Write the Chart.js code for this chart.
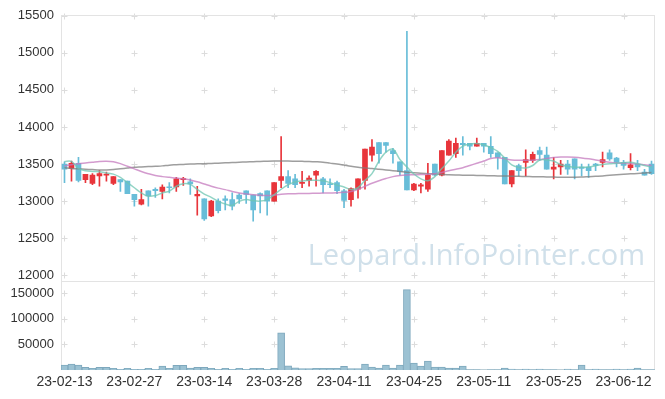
<!DOCTYPE html>
<html>
<head>
<meta charset="utf-8">
<script src="https://cdn.jsdelivr.net/npm/chart.js@4/dist/chart.umd.min.js"></script>
<style>
  html, body { margin: 0; padding: 0; background: #fff; }
  #wrap { width: 665px; height: 399px; }
</style>
</head>
<body>
<div id="wrap"><canvas id="chart"></canvas></div>
<script>
// daily candles, 23-02-13 .. 23-06-16
const dates = [
  '23-02-13','23-02-14','23-02-15','23-02-16','23-02-17','23-02-20','23-02-21','23-02-22','23-02-23','23-02-24',
  '23-02-27','23-02-28','23-03-02','23-03-03','23-03-06','23-03-07','23-03-08','23-03-09','23-03-10','23-03-13',
  '23-03-14','23-03-15','23-03-16','23-03-17','23-03-20','23-03-21','23-03-22','23-03-23','23-03-24','23-03-27',
  '23-03-28','23-03-29','23-03-30','23-03-31','23-04-03','23-04-04','23-04-05','23-04-06','23-04-07','23-04-10',
  '23-04-11','23-04-12','23-04-13','23-04-14','23-04-17','23-04-18','23-04-19','23-04-20','23-04-21','23-04-24',
  '23-04-25','23-04-26','23-04-27','23-04-28','23-05-02','23-05-03','23-05-04','23-05-08','23-05-09','23-05-10',
  '23-05-11','23-05-12','23-05-15','23-05-16','23-05-17','23-05-18','23-05-19','23-05-22','23-05-23','23-05-24',
  '23-05-25','23-05-26','23-05-30','23-05-31','23-06-01','23-06-02','23-06-05','23-06-07','23-06-08','23-06-09',
  '23-06-12','23-06-13','23-06-14','23-06-15','23-06-16'
];

const openP = [
  13500,13440,13510,13290,13240,13340,13350,13240,13290,13270,
  13090,12960,13140,13160,13130,13190,13190,13290,13260,13070,
  13030,12800,13000,13030,13020,13080,13140,13080,13100,13140,
  13000,13280,13330,13300,13240,13280,13350,13300,13230,13250,
  13140,13020,13160,13280,13620,13790,13790,13680,13530,13410,
  13150,13200,13160,13500,13350,13620,13640,13780,13780,13740,
  13780,13740,13650,13590,13230,13480,13520,13550,13680,13620,
  13430,13460,13500,13570,13460,13460,13500,13520,13650,13580,
  13520,13450,13500,13390,13500
];
const highP = [
  13530,13540,13590,13360,13370,13410,13390,13330,13290,13270,
  13090,13160,13140,13180,13220,13250,13320,13320,13300,13200,
  13030,13010,13030,13070,13110,13100,13140,13080,13110,13140,
  13250,13870,13410,13360,13400,13340,13410,13320,13300,13270,
  13160,13180,13300,13700,13830,13790,13790,13710,13530,15290,
  13240,13240,13510,13500,13680,13830,13850,13870,13780,13850,
  13780,13870,13650,13590,13410,13500,13690,13660,13730,13730,
  13590,13550,13550,13570,13500,13500,13510,13660,13690,13590,
  13550,13640,13550,13430,13540
];
const lowP = [
  13250,13270,13260,13250,13220,13200,13270,13220,13130,13100,
  12930,12950,12930,13050,13030,13110,13130,13210,13090,12810,
  12740,12790,12840,12880,12880,12970,12970,12730,12840,12810,
  13000,13180,13180,13180,13180,13200,13200,13110,13180,13100,
  12910,12930,13040,13160,13540,13510,13660,13510,13350,13150,
  13140,13110,13130,13340,13340,13620,13590,13620,13690,13740,
  13660,13590,13430,13230,13190,13340,13340,13520,13550,13430,
  13300,13360,13360,13300,13340,13320,13410,13460,13550,13460,
  13430,13420,13410,13350,13360
];
const closeP = [
  13430,13510,13280,13360,13350,13370,13360,13330,13260,13100,
  13020,13020,13070,13140,13190,13180,13300,13300,13230,13090,
  12760,13000,12870,13010,12930,13030,13090,12880,13070,13000,
  13250,13330,13240,13220,13250,13310,13400,13220,13220,13140,
  13010,13170,13300,13700,13730,13640,13750,13640,13400,13150,
  13230,13220,13350,13350,13680,13810,13780,13760,13740,13780,
  13740,13640,13590,13230,13410,13410,13560,13630,13630,13430,
  13460,13500,13430,13430,13440,13410,13480,13560,13570,13520,
  13480,13490,13460,13350,13370
];
const volumes = [
  9800,11800,9800,5200,3300,5200,5200,3300,1300,3300,
  1300,1300,3300,1300,7800,3300,9200,9200,3900,5200,
  5200,3300,1300,3300,1300,3300,1300,3300,3300,1300,
  3300,72400,8200,4000,2600,2600,3300,3300,3300,3300,
  7200,2600,2600,11700,5900,3900,9800,3900,9800,157000,
  13700,7800,17600,5900,5900,3900,3900,7800,700,700,
  200,700,700,3900,2000,700,2000,700,2000,700,
  700,400,2000,700,9800,700,2000,700,700,2000,
  700,2000,3900,700,700
];
// moving averages as drawn (short / mid / long)
const maShort = [
  13535,13535,13440,13410,13400,13395,13380,13364,13320,13250,
  13180,13110,13066,13075,13110,13135,13200,13235,13226,13157,
  13095,13050,12997,12960,12942,12997,13020,13005,13000,13020,
  13085,13160,13220,13258,13270,13281,13282,13275,13249,13215,
  13190,13157,13180,13280,13370,13540,13660,13700,13560,13460,
  13365,13300,13275,13330,13440,13540,13660,13740,13770,13777,
  13760,13720,13670,13580,13490,13455,13447,13480,13555,13555,
  13540,13490,13470,13456,13456,13460,13478,13495,13502,13511,
  13518,13525,13505,13480,13456
];
const maMid = [
  13475,13490,13505,13515,13525,13535,13538,13530,13505,13470,
  13435,13400,13370,13345,13330,13320,13312,13300,13285,13260,
  13230,13200,13175,13155,13130,13110,13095,13085,13078,13075,
  13082,13092,13098,13100,13102,13104,13106,13108,13110,13112,
  13118,13130,13160,13200,13240,13275,13305,13330,13345,13352,
  13355,13358,13362,13368,13385,13410,13430,13450,13480,13510,
  13540,13575,13585,13570,13555,13550,13550,13552,13560,13575,
  13588,13594,13594,13590,13582,13570,13555,13540,13525,13515,
  13510,13508,13500,13490,13480
];
const maLong = [
  13450,13440,13435,13430,13425,13420,13420,13425,13435,13445,
  13455,13460,13465,13470,13475,13485,13490,13495,13500,13502,
  13505,13508,13512,13516,13520,13524,13528,13532,13535,13538,
  13540,13540,13540,13538,13536,13534,13530,13524,13512,13500,
  13485,13470,13458,13448,13440,13430,13420,13410,13400,13390,
  13382,13375,13370,13365,13360,13355,13352,13350,13348,13346,
  13344,13342,13340,13338,13336,13334,13332,13330,13328,13326,
  13324,13322,13320,13322,13325,13330,13335,13340,13348,13355,
  13362,13368,13372,13378,13385
];
const priceTicks = [12000, 12500, 13000, 13500, 14000, 14500, 15000, 15500];
const volumeTicks = [50000, 100000, 150000];

const UP = '#e8353b';
const DOWN = '#68bdd8';
const candleColors = openP.map((o, i) => closeP[i] >= o ? UP : DOWN);
const tickFont = { family: '"Liberation Sans", Arial, sans-serif', size: 13 };

// frame, grid crosses and watermark
const framePlugin = {
  id: 'frame',
  beforeDatasetsDraw(chart) {
    const { ctx, chartArea, scales } = chart;
    ctx.save();
    ctx.font = '29px "Open Sans"';
    ctx.fillStyle = '#d0e0ea';
    ctx.textAlign = 'right';
    ctx.fillText('Leopard.InfoPointer.com', chartArea.right - 10, scales.y.bottom - 16);

    ctx.strokeStyle = '#dcdcdc';
    ctx.lineWidth = 1;
    const xs = [];
    dates.forEach((d, i) => { if (i % 10 === 0) xs.push(Math.round(scales.x.getPixelForValue(i)) + 0.5); });
    const ys = priceTicks.map(v => scales.y.getPixelForValue(v))
      .concat(volumeTicks.map(v => scales.yVol.getPixelForValue(v)))
      .map(v => Math.round(v) + 0.5);
    ctx.beginPath();
    xs.forEach(x => ys.forEach(y => {
      ctx.moveTo(x - 3, y); ctx.lineTo(x + 3, y);
      ctx.moveTo(x, y - 3); ctx.lineTo(x, y + 3);
    }));
    ctx.stroke();

    ctx.strokeStyle = '#e3e3e3';
    ctx.strokeRect(Math.round(chartArea.left) + 0.5, Math.round(chartArea.top) + 0.5,
      Math.round(chartArea.width) - 1, Math.round(chartArea.height) - 1);
    ctx.beginPath();
    const sep = Math.round(scales.y.bottom) + 0.5;
    ctx.moveTo(chartArea.left, sep);
    ctx.lineTo(chartArea.right, sep);
    ctx.stroke();
    ctx.restore();
  }
};

new Chart(document.getElementById('chart'), {
  data: {
    labels: dates,
    datasets: [
      { type: 'line', label: 'MA5', data: maShort, yAxisID: 'y', borderColor: 'rgba(110,198,178,0.75)', borderWidth: 1.5, pointRadius: 0, tension: 0.35, order: 1 },
      { type: 'line', label: 'MA20', data: maMid, yAxisID: 'y', borderColor: 'rgba(196,122,190,0.75)', borderWidth: 1.5, pointRadius: 0, tension: 0.35, order: 1 },
      { type: 'line', label: 'MA60', data: maLong, yAxisID: 'y', borderColor: 'rgba(125,125,125,0.75)', borderWidth: 1.5, pointRadius: 0, tension: 0.35, order: 1 },
      { type: 'bar', label: 'body', data: openP.map((o, i) => [o, closeP[i]]), yAxisID: 'y', backgroundColor: candleColors, barThickness: 5, minBarLength: 1, grouped: false, order: 2 },
      { type: 'bar', label: 'wick', data: lowP.map((l, i) => [l, highP[i]]), yAxisID: 'y', backgroundColor: candleColors, barThickness: 1, grouped: false, order: 3 },
      { type: 'bar', label: 'volume', data: volumes, yAxisID: 'yVol', backgroundColor: '#9cc2d3', borderColor: '#7ea8bd', borderWidth: 1, barPercentage: 1, categoryPercentage: 1, grouped: false, order: 4 }
    ]
  },
  options: {
    responsive: true,
    maintainAspectRatio: false,
    animation: false,
    layout: { padding: { top: 13, right: 10, left: 0, bottom: 0 } },
    plugins: { legend: { display: false }, tooltip: { enabled: false } },
    scales: {
      x: {
        type: 'category',
        offset: true,
        grid: { display: false, drawTicks: false },
        border: { display: false },
        ticks: {
          autoSkip: false, maxRotation: 0, padding: 4, color: '#333',
          font: { family: tickFont.family, size: 14 },
          callback: (v, i) => i % 10 === 0 ? dates[i] : ''
        },
        afterFit: s => { s.height = 29; }
      },
      // left boxes are stacked in reverse order, so the volume pane comes first
      yVol: {
        position: 'left', stack: 'panes', stackWeight: 1,
        min: 0, max: 173500,
        grid: { display: false, drawTicks: false },
        border: { display: false },
        ticks: { padding: 7, color: '#333', font: tickFont, callback: v => String(v) },
        afterBuildTicks: s => { s.ticks = volumeTicks.map(v => ({ value: v })); },
        afterFit: s => { s.width = 61; }
      },
      y: {
        position: 'left', stack: 'panes', stackWeight: 3,
        min: 11920, max: 15512,
        grid: { display: false, drawTicks: false },
        border: { display: false },
        ticks: { padding: 7, color: '#333', font: tickFont, callback: v => String(v) },
        afterBuildTicks: s => { s.ticks = priceTicks.map(v => ({ value: v })); },
        afterFit: s => { s.width = 61; }
      }
    }
  },
  plugins: [framePlugin]
});
</script>
</body>
</html>
